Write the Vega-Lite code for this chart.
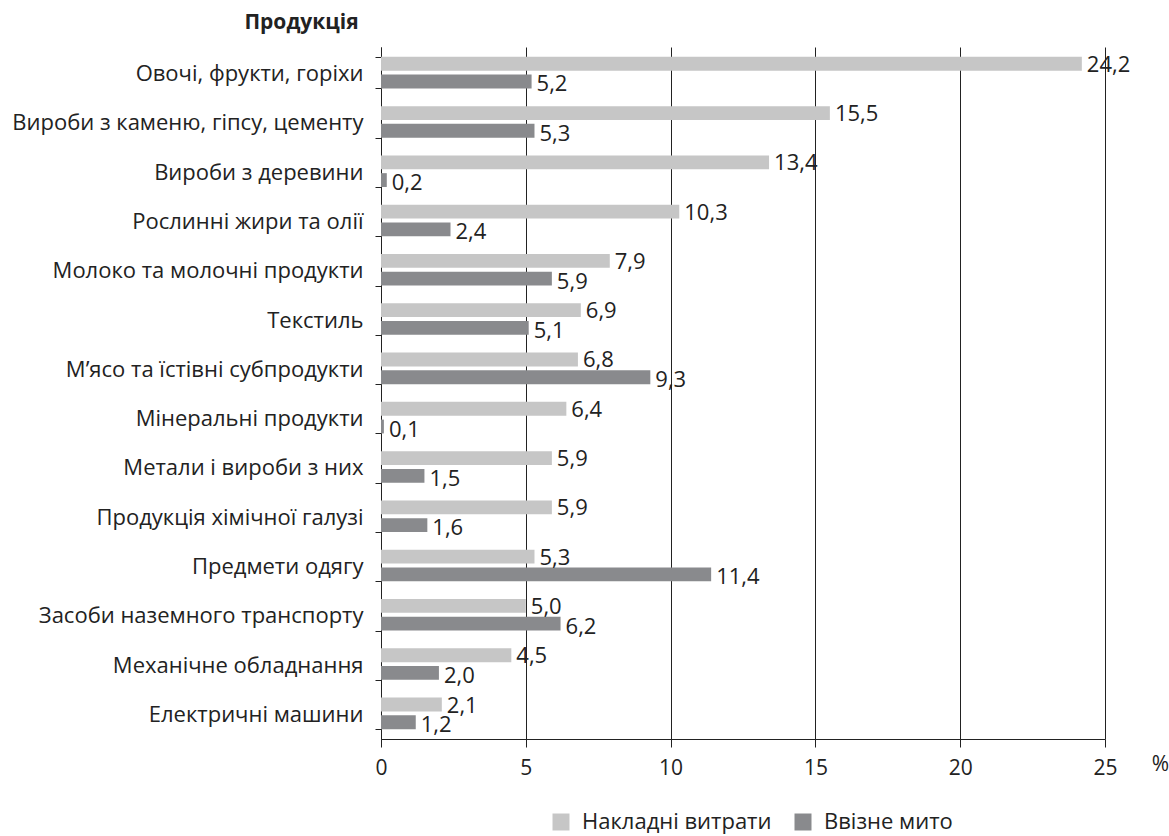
{
  "$schema": "https://vega.github.io/schema/vega-lite/v6.json",
  "width": 724,
  "height": 692,
  "autosize": {"type": "none"},
  "padding": {"left": 381, "top": 47, "right": 64, "bottom": 97},
  "background": "white",
  "config": {
    "view": {"stroke": null},
    "font": "Open Sans",
    "locale": {"number": {"decimal": ",", "thousands": "\u00a0", "grouping": [3], "currency": ["", ""]}}
  },
  "data": {"values": [
    {"cat": "Овочі, фрукти, горіхи", "series": "Накладні витрати", "value": 24.2},
    {"cat": "Овочі, фрукти, горіхи", "series": "Ввізне мито", "value": 5.2},
    {"cat": "Вироби з каменю, гіпсу, цементу", "series": "Накладні витрати", "value": 15.5},
    {"cat": "Вироби з каменю, гіпсу, цементу", "series": "Ввізне мито", "value": 5.3},
    {"cat": "Вироби з деревини", "series": "Накладні витрати", "value": 13.4},
    {"cat": "Вироби з деревини", "series": "Ввізне мито", "value": 0.2},
    {"cat": "Рослинні жири та олії", "series": "Накладні витрати", "value": 10.3},
    {"cat": "Рослинні жири та олії", "series": "Ввізне мито", "value": 2.4},
    {"cat": "Молоко та молочні продукти", "series": "Накладні витрати", "value": 7.9},
    {"cat": "Молоко та молочні продукти", "series": "Ввізне мито", "value": 5.9},
    {"cat": "Текстиль", "series": "Накладні витрати", "value": 6.9},
    {"cat": "Текстиль", "series": "Ввізне мито", "value": 5.1},
    {"cat": "М’ясо та їстівні субпродукти", "series": "Накладні витрати", "value": 6.8},
    {"cat": "М’ясо та їстівні субпродукти", "series": "Ввізне мито", "value": 9.3},
    {"cat": "Мінеральні продукти", "series": "Накладні витрати", "value": 6.4},
    {"cat": "Мінеральні продукти", "series": "Ввізне мито", "value": 0.1},
    {"cat": "Метали і вироби з них", "series": "Накладні витрати", "value": 5.9},
    {"cat": "Метали і вироби з них", "series": "Ввізне мито", "value": 1.5},
    {"cat": "Продукція хімічної галузі", "series": "Накладні витрати", "value": 5.9},
    {"cat": "Продукція хімічної галузі", "series": "Ввізне мито", "value": 1.6},
    {"cat": "Предмети одягу", "series": "Накладні витрати", "value": 5.3},
    {"cat": "Предмети одягу", "series": "Ввізне мито", "value": 11.4},
    {"cat": "Засоби наземного транспорту", "series": "Накладні витрати", "value": 5.0},
    {"cat": "Засоби наземного транспорту", "series": "Ввізне мито", "value": 6.2},
    {"cat": "Механічне обладнання", "series": "Накладні витрати", "value": 4.5},
    {"cat": "Механічне обладнання", "series": "Ввізне мито", "value": 2.0},
    {"cat": "Електричні машини", "series": "Накладні витрати", "value": 2.1},
    {"cat": "Електричні машини", "series": "Ввізне мито", "value": 1.2}
  ]},
  "encoding": {
    "y": {
      "field": "cat", "type": "nominal",
      "sort": ["Овочі, фрукти, горіхи", "Вироби з каменю, гіпсу, цементу", "Вироби з деревини", "Рослинні жири та олії", "Молоко та молочні продукти", "Текстиль", "М’ясо та їстівні субпродукти", "Мінеральні продукти", "Метали і вироби з них", "Продукція хімічної галузі", "Предмети одягу", "Засоби наземного транспорту", "Механічне обладнання", "Електричні машини"],
      "scale": {"paddingInner": 0.36, "paddingOuter": 0.2},
      "axis": {
        "title": "Продукція", "titleAngle": 0, "titleX": -80, "titleY": -25, "titleAlign": "center", "titleBaseline": "middle",
        "titleFontSize": 21, "titleFontWeight": "bold", "titleColor": "#222",
        "labelFontSize": 22, "labelColor": "#222", "labelPadding": 12, "labelLimit": 420, "labelOffset": 1,
        "tickBand": "extent", "tickSize": 6, "tickColor": "#222", "domainColor": "#222", "grid": false
      }
    },
    "yOffset": {"field": "series", "type": "nominal", "sort": ["Накладні витрати", "Ввізне мито"], "scale": {"paddingInner": 0.22}},
    "x": {
      "field": "value", "type": "quantitative",
      "scale": {"domain": [0, 25], "nice": false},
      "axis": {
        "values": [0, 5, 10, 15, 20, 25], "format": "d", "grid": true, "gridColor": "#222", "gridWidth": 1, "gridOpacity": 1,
        "tickSize": 8, "tickColor": "#222", "domainColor": "#222", "labelPadding": 10, "labelFontSize": 21, "labelColor": "#222", "labelFlush": false,
        "title": "%", "titleX": 779, "titleY": 25, "titleAlign": "center", "titleBaseline": "middle", "titleFontWeight": "normal", "titleFontSize": 21, "titleColor": "#222"
      }
    }
  },
  "layer": [
    {
      "mark": {"type": "bar"},
      "encoding": {
        "color": {
          "field": "series", "type": "nominal",
          "scale": {"domain": ["Накладні витрати", "Ввізне мито"], "range": ["#c6c6c6", "#898a8d"]},
          "legend": {"title": null, "orient": "none", "direction": "horizontal", "legendX": 169, "legendY": 764, "padding": 0,
            "symbolType": "square", "symbolSize": 289, "symbolStrokeWidth": 0, "labelFontSize": 22, "labelColor": "#222", "labelOffset": 10, "labelLimit": 400, "columnPadding": 20}
        }
      }
    },
    {
      "transform": [{"filter": "datum.series === 'Накладні витрати'"}],
      "mark": {"type": "text", "align": "left", "baseline": "middle", "dx": 5, "dy": 1, "fontSize": 22, "color": "#222"},
      "encoding": {"text": {"field": "value", "type": "quantitative", "format": ".1f"}}
    },
    {
      "transform": [{"filter": "datum.series === 'Ввізне мито'"}],
      "mark": {"type": "text", "align": "left", "baseline": "middle", "dx": 5, "dy": 3, "fontSize": 22, "color": "#222"},
      "encoding": {"text": {"field": "value", "type": "quantitative", "format": ".1f"}}
    }
  ]
}
